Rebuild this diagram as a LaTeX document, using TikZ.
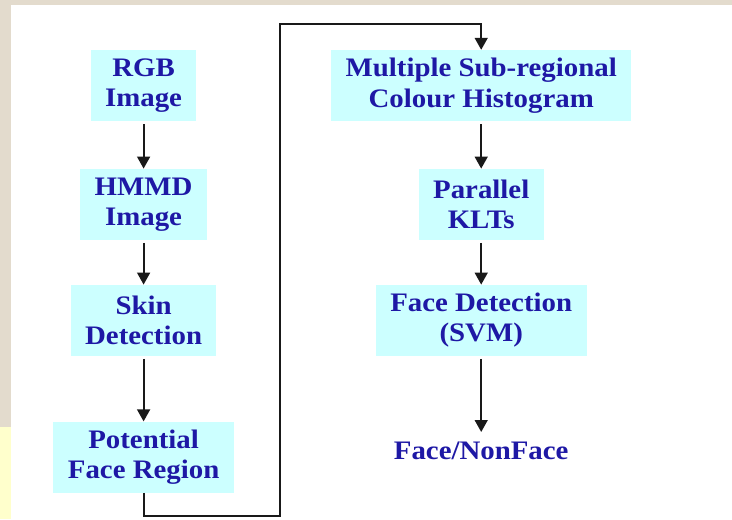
\documentclass[tikz,border=0pt]{standalone}
\usepackage{fontspec}
\setmainfont{Liberation Serif}[FakeStretch=1.08]
\usetikzlibrary{arrows.meta}
\definecolor{boxcyan}{RGB}{204,255,255}
\definecolor{labelblue}{RGB}{30,24,165}
\definecolor{parchment}{RGB}{227,219,205}
\definecolor{paleyellow}{RGB}{255,255,204}

\begin{document}
\begin{tikzpicture}[
    stage/.style={fill=boxcyan, minimum height=1.775cm, inner xsep=0.36cm, inner ysep=0pt,
                  font=\fontsize{19}{21.5}\selectfont\bfseries, text=labelblue, align=center},
    result/.style={font=\fontsize{19}{21.5}\selectfont\bfseries, text=labelblue, inner sep=0.25cm},
    flow/.style={-{Triangle[length=0.3cm, width=0.32cm]}, line width=1.5pt, black!90,
                 shorten <=0.07cm},
  ]
    % page background
    \fill[parchment] (0,0) rectangle (18.3,-12.975);
    \fill[white] (0.275,-0.125) rectangle (18.3,-12.975);
    \fill[paleyellow] (0,-10.675) rectangle (0.275,-12.975);
    \useasboundingbox (0,0) rectangle (18.3,-12.975);

    % colour segmentation stages
    \node[stage] (rgb)  at (3.59, -2.14)  {RGB\\Image};
    \node[stage] (hmmd) at (3.59, -5.11)  {HMMD\\Image};
    \node[stage] (skin) at (3.59, -8.01)  {Skin\\Detection};
    \node[stage] (pfr)  at (3.59, -11.43) {Potential\\Face Region};

    \draw[flow] (rgb) -- (hmmd);
    \draw[flow] (hmmd) -- (skin);
    \draw[flow] (skin) -- (pfr);

    % classification stages
    \node[stage]  (msh) at (12.03, -2.14)  {Multiple Sub-regional\\Colour Histogram};
    \node[stage]  (klt) at (12.03, -5.11)  {Parallel\\KLTs};
    \node[stage]  (svm) at (12.03, -8.01)  {Face Detection\\(SVM)};
    \node[result] (out) at (12.03, -11.28) {Face/NonFace};

    \draw[flow] (msh) -- (klt);
    \draw[flow] (klt) -- (svm);
    \draw[flow] (svm) -- (out);

    % link between the two columns
    \coordinate (turn) at (7.0, -0.59);
    \draw[flow, shorten <=0pt] (pfr.south) -- ++(0,-0.58) -| (turn) -| (msh.north);
\end{tikzpicture}
\end{document}
